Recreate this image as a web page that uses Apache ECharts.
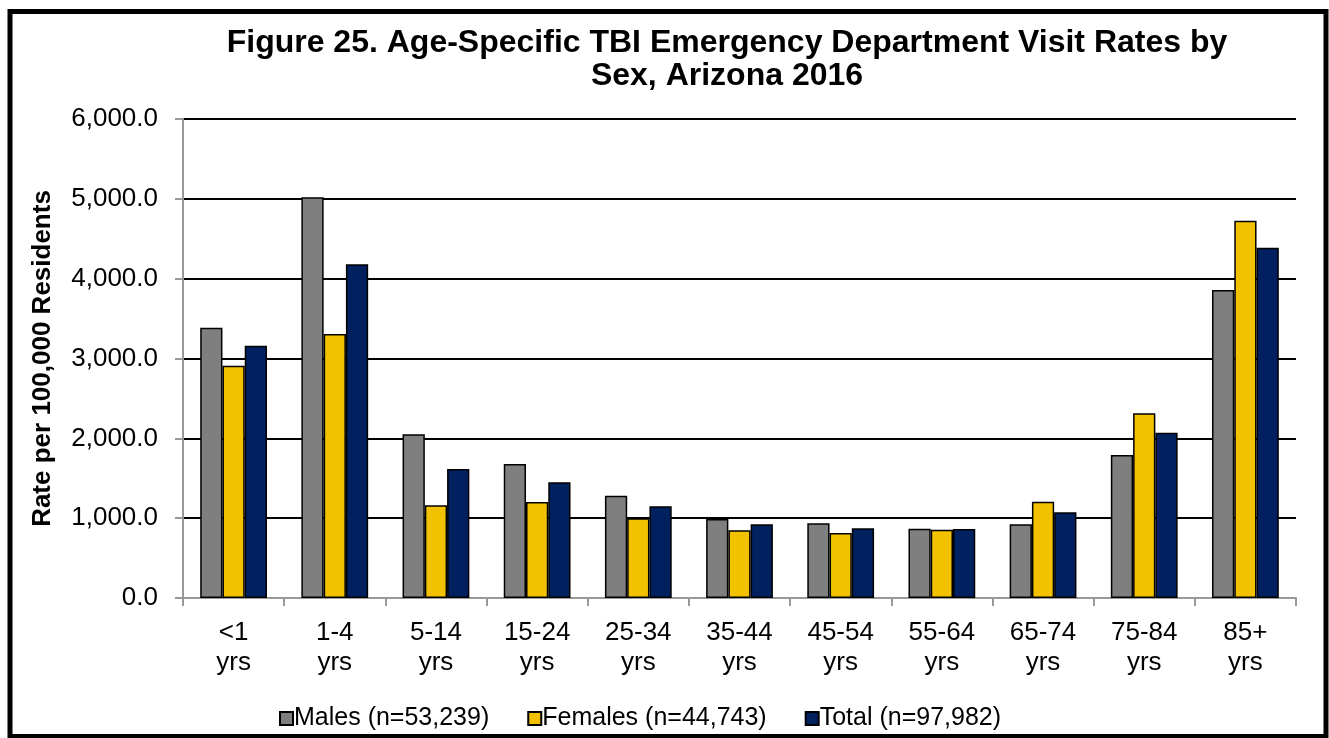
<!DOCTYPE html>
<html>
<head>
<meta charset="utf-8">
<script src="https://cdn.jsdelivr.net/npm/echarts@6/dist/echarts.min.js"></script>
<style>
  html, body { margin: 0; padding: 0; background: #fff; }
  #main { width: 1329px; height: 738px; }
</style>
</head>
<body>
<div id="main"></div>
<script type="text/javascript">
// age groups and rates per 100,000 residents
var ageGroups = ['<1\nyrs', '1-4\nyrs', '5-14\nyrs', '15-24\nyrs', '25-34\nyrs', '35-44\nyrs',
                 '45-54\nyrs', '55-64\nyrs', '65-74\nyrs', '75-84\nyrs', '85+\nyrs'];
var males   = [3386, 5020, 2050, 1679, 1282, 990, 936, 868, 923, 1791, 3858];
var females = [2910, 3307, 1161, 1203, 998, 848, 814, 856, 1206, 2314, 4726];
var total   = [3160, 4180, 1616, 1449, 1149, 923, 873, 864, 1073, 2071, 4388];
var seriesNames = ['Males (n=53,239)', 'Females (n=44,743)', 'Total (n=97,982)'];
var colors = ['#7f7f7f', '#f2c200', '#002060'];

var myChart = echarts.init(document.getElementById('main'));

function barSeries(name, data, color) {
    return {
        name: name,
        type: 'bar',
        data: data,
        barGap: '0%',
        barCategoryGap: '34%',
        itemStyle: {
            color: color,
            borderColor: '#000',
            borderWidth: 1.5
        }
    };
}

var option = {
    animation: false,
    textStyle: { fontFamily: 'Liberation Sans, Arial, sans-serif' },
    title: {
        text: 'Figure 25. Age-Specific TBI Emergency Department Visit Rates by\nSex, Arizona 2016',
        left: 722,
        textAlign: 'center',
        top: 22,
        textStyle: {
            fontSize: 32,
            fontWeight: 'bold',
            color: '#000',
            lineHeight: 33,
            fontFamily: 'Liberation Sans, Arial, sans-serif'
        }
    },
    legend: {
        top: 701,
        left: 274,
        itemWidth: 13,
        itemHeight: 13,
        itemGap: 38,
        icon: 'rect',
        textStyle: {
            fontSize: 25,
            color: '#000',
            padding: [0, 0, 0, -4]
        },
        data: seriesNames
    },
    grid: {
        left: 183,
        right: 33,
        top: 119,
        bottom: 140
    },
    xAxis: {
        type: 'category',
        data: ageGroups,
        axisLine: { lineStyle: { color: '#999', width: 2 } },
        axisTick: { show: true, length: 8, lineStyle: { color: '#999', width: 2 } },
        axisLabel: {
            color: '#000',
            fontSize: 26,
            lineHeight: 30,
            margin: 20,
            interval: 0
        }
    },
    yAxis: {
        type: 'value',
        min: 0,
        max: 6000,
        interval: 1000,
        name: 'Rate per 100,000 Residents',
        nameLocation: 'middle',
        nameGap: 127,
        nameTextStyle: { fontSize: 26, fontWeight: 'bold', color: '#000' },
        axisLine: { show: true, lineStyle: { color: '#999', width: 2 } },
        axisTick: { show: true, length: 8, lineStyle: { color: '#999', width: 2 } },
        axisLabel: {
            color: '#000',
            fontSize: 26,
            margin: 25,
            formatter: function (v) {
                return v.toLocaleString('en-US', { minimumFractionDigits: 1, maximumFractionDigits: 1 });
            }
        },
        splitLine: { lineStyle: { color: '#000', width: 2 } }
    },
    series: [
        barSeries(seriesNames[0], males, colors[0]),
        barSeries(seriesNames[1], females, colors[1]),
        barSeries(seriesNames[2], total, colors[2])
    ],
    graphic: [{
        type: 'rect',
        shape: { x: 10, y: 11.5, width: 1316, height: 725 },
        style: { fill: 'none', stroke: '#000', lineWidth: 5 },
        silent: true
    }]
};
myChart.setOption(option);
</script>
</body>
</html>
